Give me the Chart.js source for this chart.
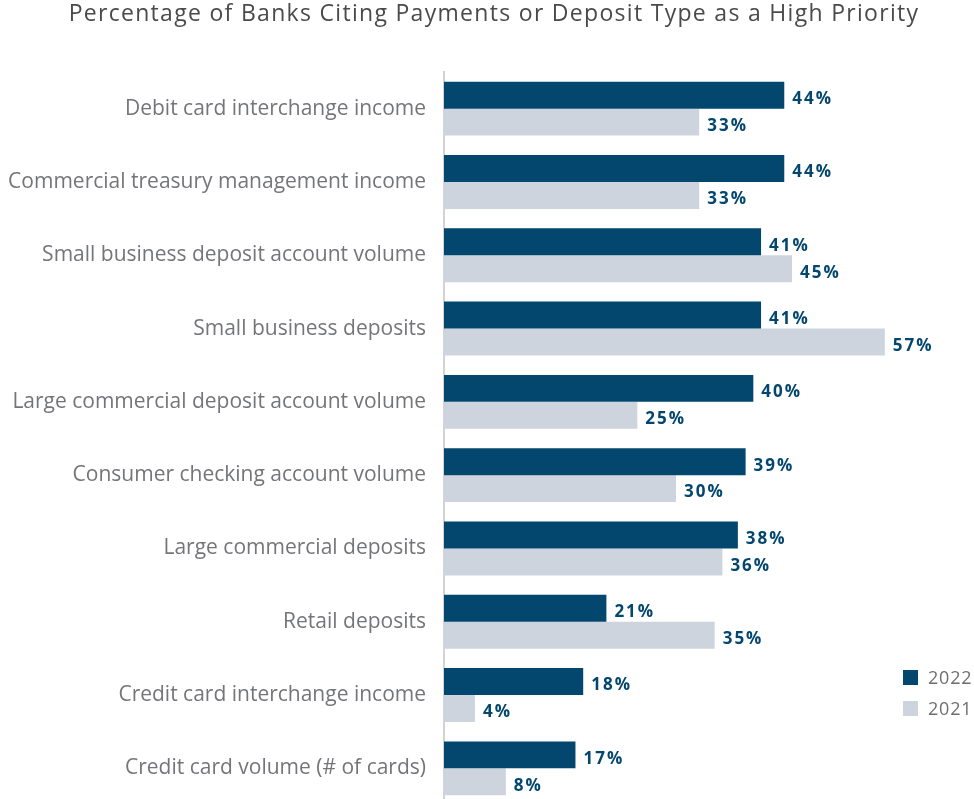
<!DOCTYPE html>
<html>
<head>
<meta charset="utf-8">
<script src="https://cdn.jsdelivr.net/npm/chart.js@4.4.1/dist/chart.umd.min.js"></script>
<style>
  body { margin: 0; overflow: hidden; background: #fff; }
  #wrap { position: relative; width: 974px; height: 808px; }
  .legend { position: absolute; left: 903px; font: 18px 'Open Sans', sans-serif; color: #6d6e71; letter-spacing: 0.8px; }
  .legend span { display: inline-block; width: 15px; height: 15px; vertical-align: -1px; margin-right: 10px; }
</style>
</head>
<body>
<div id="wrap">
  <canvas id="prioritiesChart" width="974" height="808"></canvas>
  <div class="legend" style="top:665px"><span style="background:#03466e"></span>2022</div>
  <div class="legend" style="top:696px"><span style="background:#cdd4dd"></span>2021</div>
</div>
<script>
const ctx = document.getElementById('prioritiesChart').getContext('2d')

// categorias e valores
const chartTitle = 'Percentage of Banks Citing Payments or Deposit Type as a High Priority'
const categories = [
  'Debit card interchange income',
  'Commercial treasury management income',
  'Small business deposit account volume',
  'Small business deposits',
  'Large commercial deposit account volume',
  'Consumer checking account volume',
  'Large commercial deposits',
  'Retail deposits',
  'Credit card interchange income',
  'Credit card volume (# of cards)'
]
const values2022 = [44, 44, 41, 41, 40, 39, 38, 21, 18, 17]
const values2021 = [33, 33, 45, 57, 25, 30, 36, 35, 4, 8]

// título e rótulos de valor desenhados à mão (fonte mais espaçada)
const extraText = {
  id: 'extraText',
  afterDatasetsDraw (chart) {
    const c = chart.ctx
    c.save()
    c.letterSpacing = '1.3px'
    c.font = "23px 'Open Sans', sans-serif"
    c.fillStyle = '#4a4a4a'
    c.textAlign = 'center'
    c.textBaseline = 'middle'
    c.fillText(chartTitle, 494, 14)

    c.letterSpacing = '2px'
    c.font = "bold 17px 'Open Sans', sans-serif"
    c.fillStyle = '#03466e'
    c.textAlign = 'left'
    chart.data.datasets.forEach((ds, i) => {
      chart.getDatasetMeta(i).data.forEach((bar, j) => {
        c.fillText(ds.data[j] + '%', bar.x + 8, bar.y + 4)
      })
    })
    c.restore()
  }
}

new Chart(ctx, {
  type: 'bar',
  data: {
    labels: categories,
    datasets: [
      {
        label: '2022',
        data: values2022,
        backgroundColor: '#03466e',
        categoryPercentage: 0.736,
        barPercentage: 1
      },
      {
        label: '2021',
        data: values2021,
        backgroundColor: '#cdd4dd',
        categoryPercentage: 0.736,
        barPercentage: 1
      }
    ]
  },
  options: {
    indexAxis: 'y',
    responsive: false,
    animation: false,
    layout: { padding: { left: 0, right: 66, top: 72, bottom: 3 } },
    plugins: {
      legend: { display: false },
      tooltip: { enabled: false },
      title: { display: false }
    },
    scales: {
      x: {
        display: false,
        min: 0,
        max: 60
      },
      y: {
        afterFit (scale) {
          scale.width = 444
          scale.paddingTop = 0
          scale.paddingBottom = 0
        },
        grid: { display: false, drawTicks: false },
        border: { display: true, color: '#d3d3d3', width: 2 },
        ticks: {
          padding: 18,
          color: '#747578',
          font: { family: "'Open Sans', sans-serif", size: 21 }
        }
      }
    }
  },
  plugins: [extraText]
})
</script>
</body>
</html>
